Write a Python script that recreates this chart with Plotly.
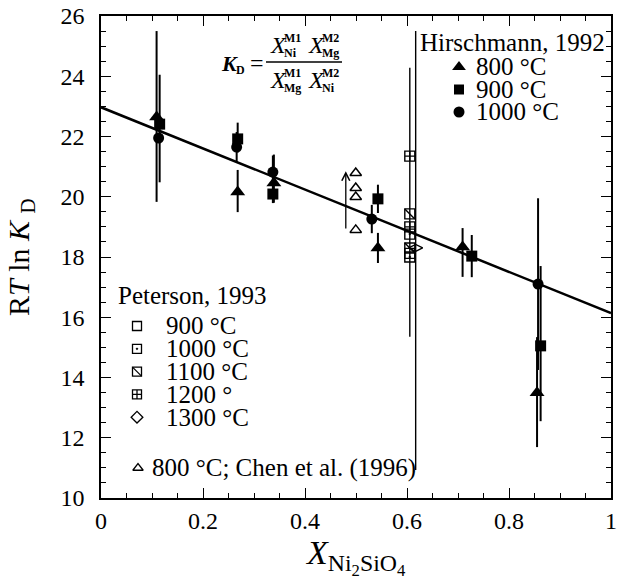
import plotly.graph_objects as go

# ---------------- data ----------------
# Hirschmann, 1992 (filled symbols)
h800_x = [0.109, 0.268, 0.339, 0.543, 0.709, 0.855]
h800_y = [22.65, 20.16, 20.46, 18.30, 18.33, 13.49]
h800_ep = [2.85, 0.73, 0.94, 0.50, 0.63, 1.85]
h800_em = [2.82, 0.67, 0.66, 0.50, 0.99, 1.80]

h900_x = [0.115, 0.268, 0.337, 0.543, 0.727, 0.862]
h900_y = [22.41, 21.92, 20.09, 19.93, 18.03, 15.05]
h900_ep = [1.64, 0.54, 0.30, 0.47, 0.70, 2.65]
h900_em = [1.93, 0.45, 0.30, 0.47, 0.70, 2.50]

h1000_x = [0.113, 0.266, 0.337, 0.531, 0.857]
h1000_y = [21.95, 21.65, 20.82, 19.26, 17.10]
h1000_ep = [0.0, 0.50, 0.55, 0.47, 2.85]
h1000_em = [0.0, 0.50, 0.40, 0.47, 2.85]

# Peterson, 1993 (open patterned symbols)
p900_x = [0.6055]
p900_y = [18.12]
p1000_x = [0.6055, 0.6055]
p1000_y = [18.76, 18.00]
p1100_x = [0.6055, 0.6055]
p1100_y = [19.43, 18.30]
p1100_ep = [4.85, 0.0]
p1100_em = [4.08, 0.0]
p1200_x = [0.6055, 0.6055]
p1200_y = [21.35, 19.00]
p1300_x = [0.617]
p1300_y = [18.30]
p1300_ep = [7.20]
p1300_em = [7.37]

# Chen et al. (1996), 800 C (open triangles)
c800_x = [0.4995, 0.4995, 0.4995, 0.4995]
c800_y = [20.79, 20.29, 19.99, 18.90]
chen_arrow_x = 0.48
chen_arrow_from = 18.90
chen_arrow_to = 20.85

# regression line
fit_x = [0.0, 1.0]
fit_y = [22.97, 16.14]

# axis ticks
x_ticks = [0, 0.2, 0.4, 0.6, 0.8, 1]
x_ticklabels = ["0", "0.2", "0.4", "0.6", "0.8", "1"]
y_ticks = [10, 12, 14, 16, 18, 20, 22, 24, 26]

# legend texts
hir_title = "Hirschmann, 1992"
hir_labels = ["800 °C", "900 °C", "1000 °C"]
pet_title = "Peterson, 1993"
pet_labels = ["900 °C", "1000 °C", "1100 °C", "1200 °", "1300 °C"]
chen_label = "800 °C; Chen et al. (1996)"

# ---------------- layout geometry ----------------
W, H = 623, 584
ML, MR, MT, MB = 101, 12, 16, 86
PW, PH = W - ML - MR, H - MT - MB
FONT = "Liberation Serif, Times New Roman, serif"


def fx(px):
    return (px - ML) / PW


def fy(py):
    return (H - MB - py) / PH


fig = go.Figure()

# regression line
fig.add_trace(go.Scatter(x=fit_x, y=fit_y, mode="lines",
                         line=dict(color="black", width=2.5), showlegend=False))


def err(ep, em, th=2.0):
    return dict(type="data", array=ep, arrayminus=em, color="black",
                thickness=th, width=0, symmetric=False)


# Chen
fig.add_trace(go.Scatter(x=c800_x, y=c800_y, mode="markers",
                         marker=dict(symbol="triangle-up-open", size=10, color="black",
                                     line=dict(width=1.5, color="black")),
                         showlegend=False))

# Peterson
pet_marker = dict(size=10, color="black", line=dict(width=1.4, color="black"))
fig.add_trace(go.Scatter(x=p1100_x, y=p1100_y, mode="markers",
                         error_y=err(p1100_ep, p1100_em, 1.4),
                         marker=dict(pet_marker, symbol="square-open"), showlegend=False))
fig.add_trace(go.Scatter(x=p1100_x, y=p1100_y, mode="markers",
                         marker=dict(pet_marker, symbol="line-nw"), showlegend=False))
fig.add_trace(go.Scatter(x=p1300_x, y=p1300_y, mode="markers",
                         error_y=err(p1300_ep, p1300_em, 1.4),
                         marker=dict(pet_marker, symbol="diamond-wide-open"), showlegend=False))
fig.add_trace(go.Scatter(x=p900_x, y=p900_y, mode="markers",
                         marker=dict(pet_marker, symbol="square-open"), showlegend=False))
fig.add_trace(go.Scatter(x=p1000_x, y=p1000_y, mode="markers",
                         marker=dict(pet_marker, symbol="square-open-dot"), showlegend=False))
fig.add_trace(go.Scatter(x=p1200_x, y=p1200_y, mode="markers",
                         marker=dict(pet_marker, symbol="square-cross-open"), showlegend=False))

# Hirschmann
fig.add_trace(go.Scatter(x=h800_x, y=h800_y, mode="markers",
                         error_y=err(h800_ep, h800_em),
                         marker=dict(symbol="triangle-up", size=13, color="black"),
                         showlegend=False))
fig.add_trace(go.Scatter(x=h900_x, y=h900_y, mode="markers",
                         error_y=err(h900_ep, h900_em),
                         marker=dict(symbol="square", size=11, color="black"),
                         showlegend=False))
fig.add_trace(go.Scatter(x=h1000_x, y=h1000_y, mode="markers",
                         error_y=err(h1000_ep, h1000_em),
                         marker=dict(symbol="circle", size=11, color="black"),
                         showlegend=False))

# ---------------- legend keys (overlay axes in plot-fraction coords) ----------------
hir_sym_px, hir_text_px, hir_title_px = 459, 474, 418
hir_y0, hir_step, hir_title_y = 67, 22.5, 42
hir_syms = ["triangle-up", "square", "circle"]
hir_sizes = [12, 10, 11]
for i, (lab, sym, sz) in enumerate(zip(hir_labels, hir_syms, hir_sizes)):
    yy = hir_y0 + i * hir_step
    fig.add_trace(go.Scatter(x=[fx(hir_sym_px)], y=[fy(yy)], xaxis="x2", yaxis="y2",
                             mode="markers", cliponaxis=False,
                             marker=dict(symbol=sym, size=sz, color="black"), showlegend=False))
    fig.add_annotation(x=fx(hir_text_px), y=fy(yy), xref="paper", yref="paper", text=lab,
                       showarrow=False, xanchor="left", yanchor="middle",
                       font=dict(family=FONT, size=25, color="black"))
fig.add_annotation(x=fx(hir_title_px), y=fy(hir_title_y), xref="paper", yref="paper",
                   text=hir_title, showarrow=False, xanchor="left", yanchor="middle",
                   font=dict(family=FONT, size=25, color="black"))

pet_sym_px, pet_text_px, pet_title_px = 137, 164, 116
pet_y0, pet_step, pet_title_y = 326, 22.8, 296
pet_syms = [["square-open"], ["square-open-dot"], ["square-open", "line-nw"],
            ["square-cross-open"], ["diamond-open"]]
for i, (lab, syms) in enumerate(zip(pet_labels, pet_syms)):
    yy = pet_y0 + i * pet_step
    for sym in syms:
        fig.add_trace(go.Scatter(x=[fx(pet_sym_px)], y=[fy(yy)], xaxis="x2", yaxis="y2",
                                 mode="markers", cliponaxis=False,
                                 marker=dict(symbol=sym, size=9, color="black",
                                             line=dict(width=1.3, color="black")),
                                 showlegend=False))
    fig.add_annotation(x=fx(pet_text_px), y=fy(yy), xref="paper", yref="paper", text=lab,
                       showarrow=False, xanchor="left", yanchor="middle",
                       font=dict(family=FONT, size=25, color="black"))
fig.add_annotation(x=fx(pet_title_px), y=fy(pet_title_y), xref="paper", yref="paper",
                   text=pet_title, showarrow=False, xanchor="left", yanchor="middle",
                   font=dict(family=FONT, size=25, color="black"))

chen_y = 468
fig.add_trace(go.Scatter(x=[fx(138)], y=[fy(chen_y)], xaxis="x2", yaxis="y2",
                         mode="markers", cliponaxis=False,
                         marker=dict(symbol="triangle-up-open", size=9, color="black",
                                     line=dict(width=1.3, color="black")),
                         showlegend=False))
fig.add_annotation(x=fx(150), y=fy(chen_y), xref="paper", yref="paper", text=chen_label,
                   showarrow=False, xanchor="left", yanchor="middle",
                   font=dict(family=FONT, size=25, color="black"))

# Chen arrow
fig.add_annotation(x=chen_arrow_x, y=chen_arrow_to, ax=chen_arrow_x, ay=chen_arrow_from,
                   xref="x", yref="y", axref="x", ayref="y", showarrow=True,
                   arrowhead=5, arrowsize=1.2, arrowwidth=1.3, arrowcolor="black", text="")

# ---------------- K_D formula ----------------
def txt(px, py, s, size, anchor="left"):
    fig.add_annotation(x=fx(px), y=fy(py), xref="paper", yref="paper", text=s,
                       showarrow=False, xanchor=anchor, yanchor="middle",
                       font=dict(family=FONT, size=size, color="black"))


bar_y = 62
txt(219, bar_y + 2, "<i><b>K</b></i>", 22)
txt(234, bar_y + 8, "<b>D</b>", 12)
txt(248, bar_y + 1, "=", 24)
fig.add_shape(type="line", xref="paper", yref="paper", x0=fx(266), x1=fx(342),
              y0=fy(bar_y), y1=fy(bar_y), line=dict(color="black", width=1.3))
num_y, den_y = bar_y - 17, bar_y + 18
for xx, sup, sub in [(268, "M1", "Ni"), (306, "M2", "Mg")]:
    txt(xx, num_y, "<i>X</i>", 24)
    txt(xx + 14, num_y - 7, "<b>%s</b>" % sup, 12)
    txt(xx + 14, num_y + 8, "<b>%s</b>" % sub, 12)
for xx, sup, sub in [(268, "M1", "Mg"), (306, "M2", "Ni")]:
    txt(xx, den_y, "<i>X</i>", 24)
    txt(xx + 14, den_y - 7, "<b>%s</b>" % sup, 12)
    txt(xx + 14, den_y + 8, "<b>%s</b>" % sub, 12)

# ---------------- axis titles ----------------
fig.add_annotation(x=fx(21), y=fy((MT + H - MB) / 2), xref="paper", yref="paper",
                   text="R<i>T</i> ln <i>K</i> <sub>D</sub>", textangle=-90,
                   showarrow=False, xanchor="center", yanchor="middle",
                   font=dict(family=FONT, size=30, color="black"))
fig.add_annotation(x=fx(355), y=fy(557), xref="paper", yref="paper",
                   text="<i>X</i><sub>Ni<sub>2</sub>SiO<sub>4</sub></sub>",
                   showarrow=False, xanchor="center", yanchor="middle",
                   font=dict(family=FONT, size=34, color="black"))

axis_common = dict(showline=True, linecolor="black", linewidth=1.6, mirror="ticks",
                   ticks="inside", tickcolor="black", tickwidth=1.4, ticklen=10,
                   showgrid=False, zeroline=False, automargin=False,
                   tickfont=dict(family=FONT, size=24, color="black"))

fig.update_layout(
    template="none",
    font=dict(family=FONT, color="black"),
    width=W, height=H, margin=dict(l=ML, r=MR, t=MT, b=MB, autoexpand=False),
    paper_bgcolor="white", plot_bgcolor="white", showlegend=False,
    xaxis=dict(axis_common, range=[0, 1], tickvals=x_ticks, ticktext=x_ticklabels,
               minor=dict(dtick=0.05, ticks="inside", ticklen=5, tickcolor="black", tickwidth=1.2),
               ticklabelstandoff=0),
    yaxis=dict(axis_common, range=[10, 26], tickvals=y_ticks,
               minor=dict(dtick=0.5, ticks="inside", ticklen=5, tickcolor="black", tickwidth=1.2),
               ticklabelstandoff=10),
    xaxis2=dict(overlaying="x", range=[0, 1], visible=False, automargin=False),
    yaxis2=dict(overlaying="y", range=[0, 1], visible=False, automargin=False),
)

fig.write_html("out.html", config={"displayModeBar": False},
               post_script="document.body.style.margin='0';document.body.style.padding='0';")
